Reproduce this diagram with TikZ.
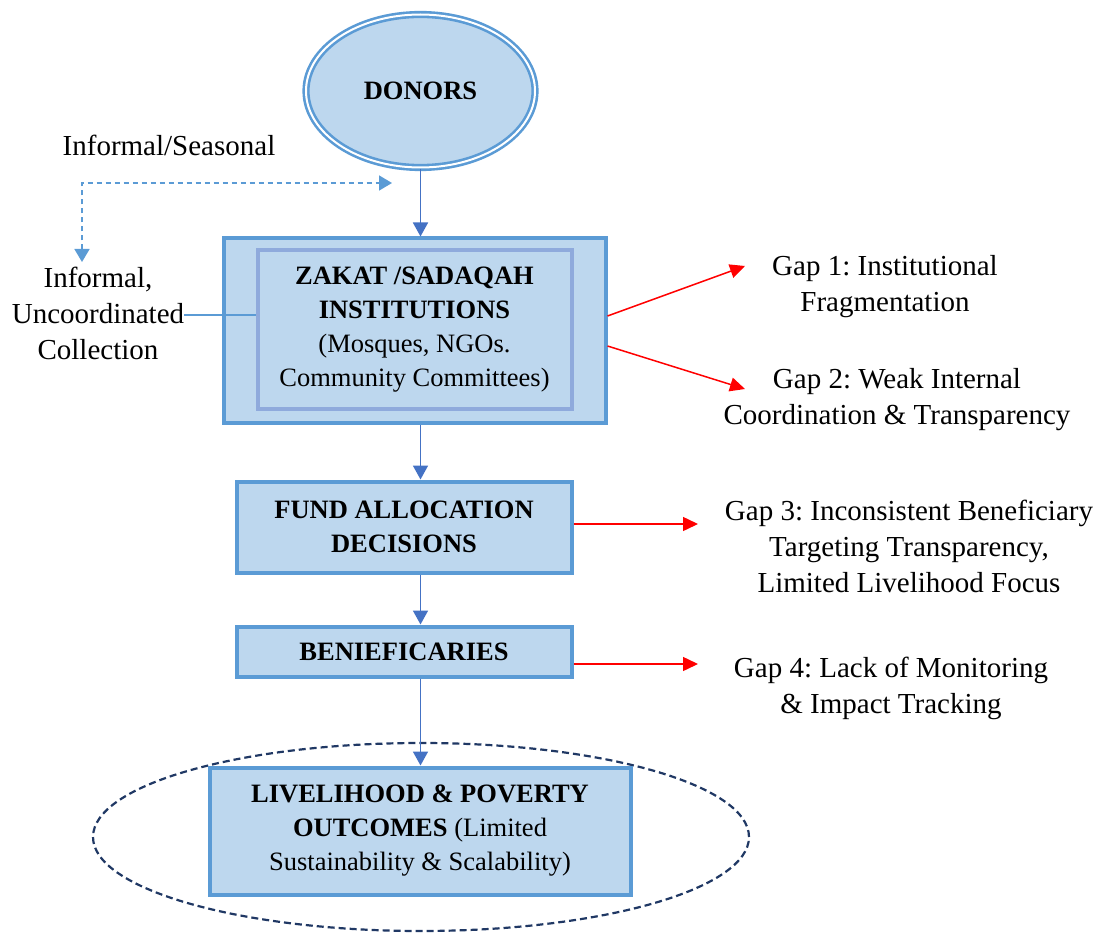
\documentclass[tikz,border=0pt]{standalone}
\usepackage{fontspec}
\setmainfont{Liberation Serif}
\usetikzlibrary{arrows.meta,shapes.geometric}
\definecolor{boxfill}{HTML}{BDD7EE}
\definecolor{boxline}{HTML}{5B9BD5}
\definecolor{innerline}{HTML}{8FAADC}
\definecolor{flowblue}{HTML}{4472C4}
\definecolor{ringnavy}{HTML}{203864}
\definecolor{gapred}{HTML}{FF0000}
\frenchspacing
\begin{document}
\begin{tikzpicture}[x=1pt,y=-1pt,
  lbl/.style={font=\fontsize{29}{36}\selectfont, align=center, inner sep=0pt},
  boxtext/.style={font=\fontsize{26.5}{34}\selectfont, align=center},
  stage/.style={draw=boxline, fill=boxfill, line width=4pt, inner sep=0pt, boxtext},
  flow/.style={draw=flowblue, line width=1.7pt, -{Triangle[length=14pt,width=15pt]}},
  gaparrow/.style={draw=gapred, line width=1.5pt, -{Triangle[length=15pt,width=14pt]}},
  informal/.style={draw=boxline, line width=1.6pt, dash pattern=on 5pt off 4pt,
    {Triangle[length=13pt,width=15pt]}-{Triangle[length=13pt,width=15pt]}},
  tie/.style={draw=boxline, line width=1.6pt}
]
\useasboundingbox (0,0) rectangle (1104,933);

% outcome ring behind the last stage
\node[ellipse, draw=ringnavy, line width=2.2pt, dash pattern=on 7pt off 4pt,
      minimum width=656pt, minimum height=188pt, inner sep=0pt] (ring) at (421,837) {};

% donors
\node[ellipse, draw=boxline, fill=boxfill, line width=2.6pt, double=white,
      double distance=2pt, minimum width=229pt, minimum height=153pt, inner sep=0pt,
      boxtext] (donors) at (420.5,91) {\textbf{DONORS}};

% zakat / sadaqah institutions (outer frame + inner frame)
\node[stage, minimum width=382pt, minimum height=185pt] (zout) at (414.5,331) {};
\node[stage, draw=innerline, minimum width=314pt, minimum height=159pt] (zin) at (414.5,329.5)
  {\textbf{ZAKAT /SADAQAH}\\\textbf{INSTITUTIONS}\\(Mosques, NGOs.\\Community Committees)};

\node[stage, minimum width=335pt, minimum height=91pt] (fund) at (404,527)
  {\textbf{FUND ALLOCATION}\\\textbf{DECISIONS}};
\node[stage, minimum width=335pt, minimum height=50pt] (benef) at (404,651.5)
  {\textbf{BENIEFICARIES}};
\node[stage, minimum width=421pt, minimum height=127pt] (outcome) at (420,831)
  {\textbf{LIVELIHOOD \& POVERTY}\\\textbf{OUTCOMES} (Limited\\Sustainability \& Scalability)};

% side labels
\node[lbl] (seasonal) at (169,145) {Informal/Seasonal};
\node[lbl] (collect) at (98,313) {Informal,\\Uncoordinated\\Collection};
\node[lbl] (gap1) at (885,286.5) {Gap 1: Institutional\\Fragmentation};
\node[lbl] (gap2) at (897,399.5) {Gap 2: Weak Internal\\Coordination \& Transparency};
\node[lbl] (gap3) at (909,546) {Gap 3: Inconsistent Beneficiary\\Targeting Transparency,\\Limited Livelihood Focus};
\node[lbl] (gap4) at (891,688.5) {Gap 4: Lack of Monitoring\\\& Impact Tracking};

% main flow
\draw[flow] (donors.south) -- (donors.south |- zout.north);
\draw[flow] (donors.south |- zout.south) -- (donors.south |- fund.north);
\draw[flow] (donors.south |- fund.south) -- (donors.south |- benef.north);
\draw[flow] (donors.south |- benef.south) -- (donors.south |- outcome.north);

% informal channel
\coordinate (infTop) at (392,183);
\coordinate (infLow) at (82,262);
\draw[informal] (infLow) |- (infTop);
\draw[tie] (collect.east |- 0,315) -- (zin.west |- 0,315);

% gaps
\coordinate (g1tip) at (745,266);
\coordinate (g2tip) at (745,389);
\coordinate (g3tip) at (698,524);
\coordinate (g4tip) at (698,664);
\draw[gaparrow] ([yshift=15pt]zout.east) -- (g1tip);
\draw[gaparrow] ([yshift=-15pt]zout.east) -- (g2tip);
\draw[gaparrow] (fund.east |- g3tip) -- (g3tip);
\draw[gaparrow] (benef.east |- g4tip) -- (g4tip);
\end{tikzpicture}
\end{document}
